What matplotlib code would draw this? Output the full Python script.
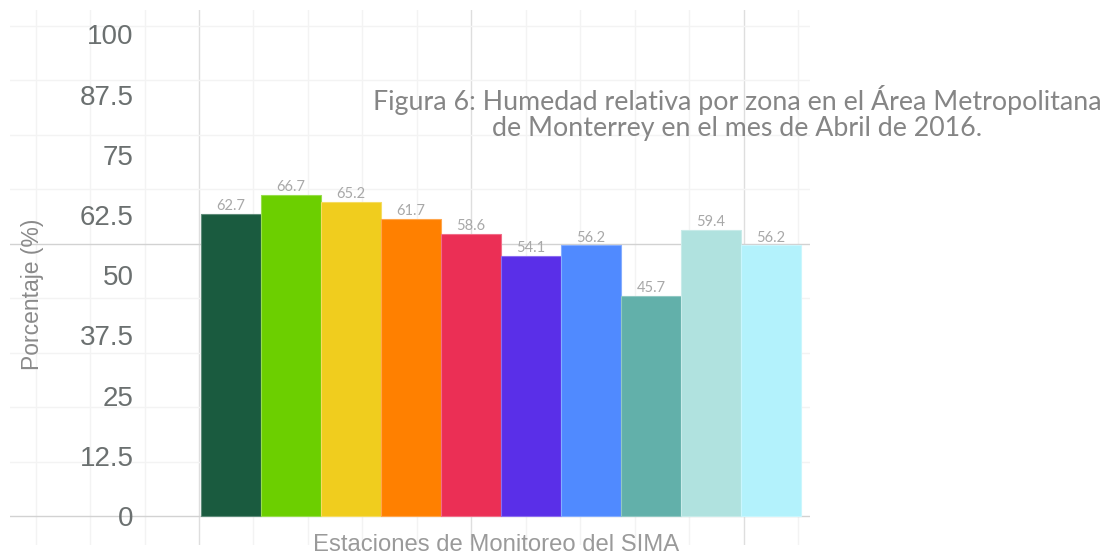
import matplotlib
matplotlib.use("Agg")
import matplotlib.pyplot as plt
import matplotlib.colors as mcolors
import numpy as np

# datos
estaciones = ["Sureste", "Noreste", "Centro", "Noroeste", "Suroeste",
              "Noroeste 2", "Norte", "Noreste 2", "Sur", "Norte 2"]
humedad = [62.7, 66.7, 65.2, 61.7, 58.6, 54.1, 56.2, 45.7, 59.4, 56.2]
colores = ["#1a5b3f", "#6ccf00", "#f0cd1e", "#ff8000", "#eb2f55",
           "#5a2fe8", "#508aff", "#62b0aa", "#b0e2df", "#b3f2fc"]
yticks = [0, 12.5, 25, 37.5, 50, 62.5, 75, 87.5, 100]
ytick_labels = ["0", "12.5", "25", "37.5", "50", "62.5", "75", "87.5", "100"]

W, H = 1114, 556
fig = plt.figure(figsize=(W / 100, H / 100), dpi=100)


def px_box(x0, y0, x1, y1):
    # caja en pixeles (origen arriba a la izquierda) -> fraccion de figura
    return [x0 / W, 1 - y1 / H, (x1 - x0) / W, (y1 - y0) / H]


def aclarar(c, f=0.3):
    r = np.array(mcolors.to_rgb(c))
    return tuple(r + (1 - r) * f)


# fondo con rejilla (cada 54.45 px, origen en la esquina de las barras)
step = 54.45
gx = fig.add_axes(px_box(10, 10, 810, 545), zorder=0)
gx.set_xlim((10 - 199) / step, (810 - 199) / step)
gx.set_ylim(-(545 - 516) / step, (516 - 10) / step)
for i in range(-3, 12):
    c = "#dedede" if i % 5 == 0 else "#f3f3f3"
    gx.axvline(i, color=c, lw=1)
for j in range(0, 10):
    c = "#d2d2d2" if j % 5 == 0 else "#f3f3f3"
    gx.axhline(j, color=c, lw=1)
gx.axis("off")

# barras
ppu = 4.815
ax = fig.add_axes(px_box(199, 10, 810, 545), zorder=1)
ax.patch.set_alpha(0)
x = np.arange(len(humedad))
ax.bar(x, humedad, width=1.0, color=colores,
       edgecolor=[aclarar(c) for c in colores], linewidth=0.8, zorder=3)
for xi, v in zip(x, humedad):
    ax.text(xi, v + 0.8, f"{v}", ha="center", va="baseline", fontsize=10.5,
            color="#a8a8a8", family="Lato", zorder=2)

ax.set_xlim((199 - 231) / 60, (810 - 231) / 60)
ax.set_ylim(-(545 - 516) / ppu, (516 - 10) / ppu)
ax.set_xticks([])
ax.set_yticks(yticks)
ax.set_yticklabels(ytick_labels, fontsize=20, color="#6b7070",
                   family="Liberation Sans")
ax.tick_params(axis="y", length=0, pad=47)
for s in ax.spines.values():
    s.set_visible(False)

fig.text(33 / W, 1 - 294 / H, "Porcentaje (%)", rotation=90, ha="center",
         va="center", fontsize=16.5, color="#8a8a8a", family="Liberation Sans")
fig.text(496 / W, 1 - 534 / H, "Estaciones de Monitoreo del SIMA",
         ha="center", va="top", fontsize=17.2, color="#9a9a9a",
         family="Liberation Sans")
fig.text(737 / W, 1 - 113 / H,
         "Figura 6: Humedad relativa por zona en el Área Metropolitana\n"
         "de Monterrey en el mes de Abril de 2016.",
         ha="center", va="center", fontsize=19.3, color="#858585",
         family="Lato", linespacing=1.02)

fig.savefig("out.png", dpi=100)
